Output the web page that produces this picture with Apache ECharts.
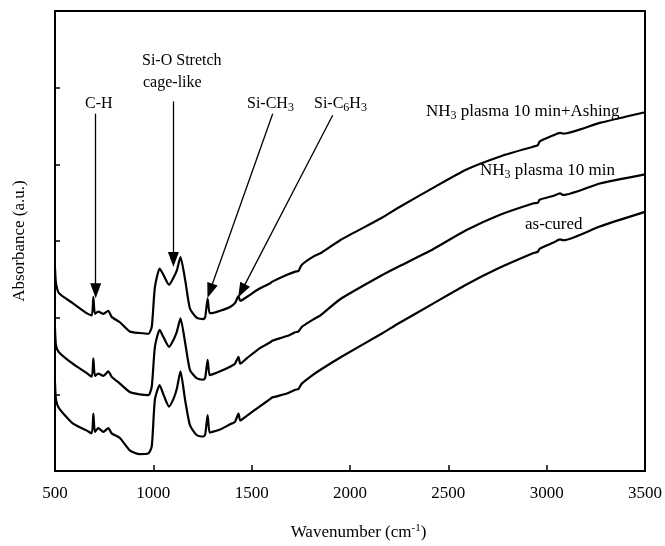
<!DOCTYPE html>
<html>
<head>
<meta charset="utf-8">
<script src="https://cdn.jsdelivr.net/npm/echarts@6/dist/echarts.min.js"></script>
<style>html,body{margin:0;padding:0;background:#fff}#c{width:665px;height:546px}</style>
</head>
<body>
<div id="c"></div>
<script>
// Wavenumber (cm-1) sample positions
var wavenumbers = [500,505,520,590,660,687,695,703,720,746,771,788,830,880,930,975,992,1008,1032,1051,1080,1104,1120,1138,1162,1186,1220,1255,1264,1276,1286,1300,1340,1390,1415,1433,1442,1475,1540,1595,1605,1680,1722,1738,1755,1815,1850,1950,2160,2250,2420,2590,2760,2930,2955,2965,3035,3068,3085,3270,3500];
// Absorbance (a.u., offset traces)
var ashing = [2.65,2.45,2.32,2.19,2.06,2.03,2.27,2.05,2.08,2.05,2.09,2.01,1.94,1.82,1.80,1.79,1.88,2.40,2.64,2.56,2.43,2.53,2.62,2.79,2.49,2.12,2.00,1.98,2.01,2.25,2.06,2.06,2.09,2.14,2.19,2.28,2.22,2.27,2.38,2.45,2.47,2.56,2.60,2.61,2.69,2.80,2.84,3.01,3.30,3.44,3.69,3.93,4.10,4.23,4.25,4.30,4.38,4.41,4.40,4.54,4.68];
var nh3 = [1.86,1.64,1.55,1.40,1.28,1.23,1.47,1.24,1.27,1.24,1.30,1.23,1.14,1.03,1.00,0.99,1.10,1.62,1.84,1.75,1.62,1.72,1.82,1.99,1.67,1.32,1.21,1.19,1.22,1.45,1.25,1.26,1.30,1.36,1.40,1.49,1.40,1.47,1.60,1.68,1.70,1.76,1.81,1.82,1.88,1.98,2.03,2.24,2.55,2.67,2.89,3.14,3.34,3.49,3.50,3.54,3.59,3.62,3.60,3.75,3.87];
var asCured = [1.15,0.93,0.82,0.62,0.53,0.49,0.75,0.51,0.56,0.51,0.56,0.49,0.43,0.27,0.22,0.23,0.32,0.93,1.12,1.00,0.84,0.95,1.08,1.30,0.92,0.60,0.47,0.45,0.48,0.73,0.50,0.51,0.54,0.61,0.64,0.75,0.66,0.72,0.84,0.94,0.96,1.01,1.06,1.07,1.14,1.26,1.32,1.48,1.79,1.93,2.18,2.43,2.65,2.84,2.86,2.90,2.98,3.02,3.01,3.19,3.38];
var xTicks = [500,1000,1500,2000,2500,3000,3500];
// Annotation arrows: [start, end] in data coords
var arrowStarts = [[707,4.66],[1102,4.82],[1607,4.66],[1912,4.64]];
var arrowEnds = [[707,2.35],[1102,2.76],[1288,2.35],[1449,2.35]];

var FONT = "'Liberation Serif','Times New Roman',serif";
function pairs(ys){ return wavenumbers.map(function(x,i){ return [x, ys[i]]; }); }

var chart = echarts.init(document.getElementById('c'), null, {renderer:'canvas'});
var lineStyle = {color:'#000', width:2.2};
var markLines = arrowStarts.map(function(s,i){ return [{coord:s},{coord:arrowEnds[i]}]; });
var rich = {
  sub:{fontSize:12, fontFamily:FONT, color:'#000', padding:[8,0,0,0]},
  sup:{fontSize:11, fontFamily:FONT, color:'#000', padding:[0,0,8,0]}
};
function txt(x,y,text,size){
  return {type:'text', x:x, y:y, silent:true, style:{text:text, fill:'#000', font:(size||16)+'px '+FONT, align:'left', verticalAlign:'middle', rich:rich}};
}
chart.setOption({
  backgroundColor:'#fff',
  animation:false,
  grid:{left:55, right:20, top:11, bottom:75, show:true, borderColor:'#000', borderWidth:2, backgroundColor:'transparent'},
  xAxis:{type:'value', min:500, max:3500, interval:500,
    name:'Wavenumber (cm{sup|-1})', nameLocation:'middle', nameGap:52,
    nameTextStyle:{color:'#000', fontSize:17, fontFamily:FONT, padding:[0,0,0,17], rich:rich},
    axisLine:{lineStyle:{color:'#000', width:2}},
    axisTick:{inside:true, length:6, lineStyle:{color:'#000', width:1.5}},
    axisLabel:{color:'#000', fontSize:17, fontFamily:FONT, margin:14, formatter:function(v){return xTicks.indexOf(v)>=0?String(v):'';}},
    splitLine:{show:false}},
  yAxis:{type:'value', min:0, max:6, interval:1,
    name:'Absorbance (a.u.)', nameLocation:'middle', nameGap:27,
    nameTextStyle:{color:'#000', fontSize:17, fontFamily:FONT},
    axisLine:{lineStyle:{color:'#000', width:2}},
    axisTick:{inside:true, length:5, lineStyle:{color:'#000', width:1.5}},
    axisLabel:{show:false}, splitLine:{show:false}},
  series:[
    {name:'NH3 plasma 10 min+Ashing', type:'line', data:pairs(ashing), showSymbol:false, smooth:0.2, lineStyle:lineStyle,
      markLine:{silent:true, symbol:['none','triangle'], symbolSize:[11,15], label:{show:false},
        lineStyle:{color:'#000', width:1.3, type:'solid'}, data:markLines}},
    {name:'NH3 plasma 10 min', type:'line', data:pairs(nh3), showSymbol:false, smooth:0.2, lineStyle:lineStyle},
    {name:'as-cured', type:'line', data:pairs(asCured), showSymbol:false, smooth:0.2, lineStyle:lineStyle}
  ],
  graphic:[
    txt(85,104,'C-H'),
    txt(142,61,'Si-O Stretch'),
    txt(143,83,'cage-like'),
    txt(247,104,'Si-CH{sub|3}'),
    txt(314,104,'Si-C{sub|6}H{sub|3}'),
    txt(426,112,'NH{sub|3} plasma 10 min+Ashing',17),
    txt(480,171,'NH{sub|3} plasma 10 min',17),
    txt(525,225,'as-cured',17)
  ]
});
</script>
</body>
</html>
